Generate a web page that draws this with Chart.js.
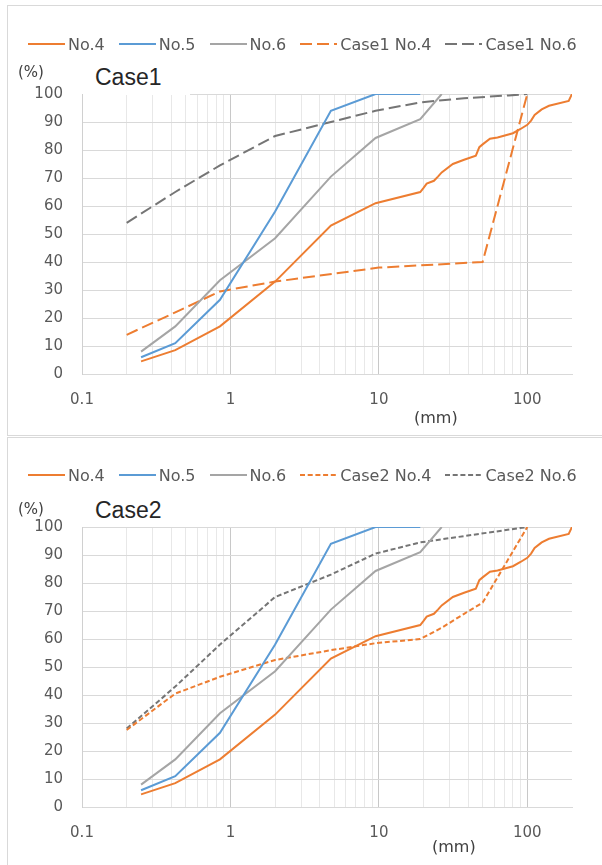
<!DOCTYPE html>
<html>
<head>
<meta charset="utf-8">
<script src="https://cdn.jsdelivr.net/npm/chart.js@4.4.1/dist/chart.umd.min.js"></script>
<style>
  html, body { margin: 0; padding: 0; background: #fff; }
  body { width: 602px; height: 865px; position: relative; overflow: hidden; font-family: 'DejaVu Sans', sans-serif; }
  .frame { position: absolute; border: 1px solid #d9d9d9; }
  canvas { position: absolute; left: 0; }
  .legend { position: absolute; left: 28px; height: 20px; display: flex; align-items: center; font-size: 16px; color: #595959; white-space: nowrap; }
  .legend .item { display: flex; align-items: center; margin-right: 14px; }
  .legend svg { margin-right: 3px; }
  .unit { position: absolute; font-size: 15px; line-height: 20px; color: #404040; white-space: nowrap; }
  .title { position: absolute; background: #fff; font-family: 'Liberation Sans', sans-serif; font-size: 23px; line-height: 34px; color: #262626; padding-left: 12px; box-sizing: border-box; }
</style>
</head>
<body>
<div class="frame" style="left:7px;top:5px;width:700px;height:429px;"></div>
<div class="frame" style="left:7px;top:437px;width:700px;height:500px;"></div>

<canvas id="chart1" width="602" height="436" style="top:0"></canvas>
<canvas id="chart2" width="602" height="429" style="top:436px"></canvas>

<div class="legend" id="legend1" style="top:34px"></div>
<div class="legend" id="legend2" style="top:465px"></div>

<div class="unit" style="left:18px;top:62px">(%)</div>
<div class="title" style="left:83px;top:60px;width:107px;height:35px">Case1</div>
<div class="unit" style="left:414px;top:408px;font-size:16px">(mm)</div>

<div class="unit" style="left:18px;top:499px">(%)</div>
<div class="title" style="left:83px;top:493px;width:107px;height:34px">Case2</div>
<div class="unit" style="left:432px;top:837px;font-size:16px">(mm)</div>

<script>
// particle size (mm) / percent passing
const sizeNo4 = [0.25, 0.425, 0.85, 2, 4.75, 9.5, 19, 20, 21, 23.5, 25, 26.5, 31.5, 37.5, 45, 47.5, 50, 56, 63, 80, 90, 100, 106, 112, 125, 140, 190, 200];
const passNo4 = [4.5, 8.5, 17, 33, 53, 61, 65, 66.5, 68, 69, 70.5, 72, 75, 76.5, 78, 81, 82, 84, 84.5, 86, 87.5, 89, 90.5, 92.5, 94.5, 95.8, 97.5, 100];

const sizeNo5 = [0.25, 0.425, 0.85, 2, 4.75, 9.5, 19];
const passNo5 = [6, 11, 26.5, 58, 94, 100, 100];

const sizeNo6 = [0.25, 0.425, 0.85, 2, 4.75, 9.5, 19, 26.5];
const passNo6 = [8, 17, 33.5, 48.5, 70.5, 84.3, 91, 100];

const sizeCase1No4 = [0.2, 0.425, 0.85, 2, 10, 50, 100];
const passCase1No4 = [14, 22, 29.5, 33, 38, 40, 100];

const sizeCase1No6 = [0.2, 0.425, 0.85, 2, 4.75, 9.5, 19, 37.5, 75, 100];
const passCase1No6 = [54, 65, 74.5, 85, 90, 94, 97, 98.5, 99.5, 100];

const sizeCase2No4 = [0.2, 0.425, 0.85, 2, 4.75, 9.5, 19, 26.5, 37.5, 50, 100];
const passCase2No4 = [27.5, 40.5, 46.5, 52.5, 56, 58.5, 60, 64, 69, 73, 100];

const sizeCase2No6 = [0.2, 0.425, 0.85, 2, 4.75, 9.5, 19, 100];
const passCase2No6 = [28, 43, 58, 75, 83, 90.5, 94.5, 100];

// axis ticks
const xTicks = [0.1, 0.2, 0.3, 0.4, 0.5, 0.6, 0.7, 0.8, 0.9,
                1, 2, 3, 4, 5, 6, 7, 8, 9,
                10, 20, 30, 40, 50, 60, 70, 80, 90, 100];
const xLabels = [0.1, 1, 10, 100];

const ORANGE = '#ED7D31';
const BLUE = '#5B9BD5';
const GRAY = '#A5A5A5';
const DARK = '#757575';
const LONG_DASH = [12, 5];
const SHORT_DASH = [5, 2.7];

function series(label, xs, ys, color, dash) {
  return { label, data: xs.map((v, i) => ({ x: v, y: ys[i] })), color, dash };
}

const common = [
  series('No.4', sizeNo4, passNo4, ORANGE, []),
  series('No.5', sizeNo5, passNo5, BLUE, []),
  series('No.6', sizeNo6, passNo6, GRAY, [])
];

const set1 = common.concat([
  series('Case1 No.4', sizeCase1No4, passCase1No4, ORANGE, LONG_DASH),
  series('Case1 No.6', sizeCase1No6, passCase1No6, DARK, LONG_DASH)
]);
const set2 = common.concat([
  series('Case2 No.4', sizeCase2No4, passCase2No4, ORANGE, SHORT_DASH),
  series('Case2 No.6', sizeCase2No6, passCase2No6, DARK, SHORT_DASH)
]);

function buildLegend(el, sets) {
  el.innerHTML = sets.map(s => `
    <div class="item">
      <svg width="37" height="4"><line x1="0" y1="2" x2="37" y2="2" stroke="${s.color}" stroke-width="2" stroke-dasharray="${s.dash.join(' ')}"/></svg>
      <span>${s.label}</span>
    </div>`).join('');
}

const tickFont = { family: "'DejaVu Sans', sans-serif", size: 15 };

function makeChart(id, sets, padTop, padBottom) {
  return new Chart(document.getElementById(id), {
    type: 'line',
    data: {
      datasets: sets.map(s => ({
        label: s.label,
        data: s.data,
        borderColor: s.color,
        backgroundColor: s.color,
        borderDash: s.dash,
        borderWidth: 2,
        pointRadius: 0,
        tension: 0,
        fill: false
      }))
    },
    options: {
      responsive: false,
      animation: false,
      layout: { padding: { left: 0, right: 30, top: padTop, bottom: padBottom } },
      plugins: { legend: { display: false }, tooltip: { enabled: false } },
      scales: {
        x: {
          type: 'logarithmic',
          min: 0.1,
          max: 200,
          afterBuildTicks: s => { s.ticks = xTicks.map(v => ({ value: v })); },
          afterFit: s => { s.height = 40; },
          ticks: {
            autoSkip: false,
            maxRotation: 0,
            padding: 17,
            font: tickFont,
            color: '#595959',
            callback: v => xLabels.includes(v) ? String(v) : ''
          },
          grid: {
            drawTicks: false,
            color: c => (c.tick && xLabels.includes(c.tick.value)) ? '#c8c8c8' : '#e8e8e8'
          },
          border: { color: '#d9d9d9' }
        },
        y: {
          min: 0,
          max: 100,
          afterFit: s => { s.width = 82; },
          ticks: { stepSize: 10, padding: 19, font: tickFont, color: '#595959' },
          grid: { drawTicks: false, color: '#d9d9d9' },
          border: { color: '#d0d0d0' }
        }
      }
    }
  });
}

buildLegend(document.getElementById('legend1'), set1);
buildLegend(document.getElementById('legend2'), set2);
makeChart('chart1', set1, 94, 22);
makeChart('chart2', set2, 91, 18);
</script>
</body>
</html>
